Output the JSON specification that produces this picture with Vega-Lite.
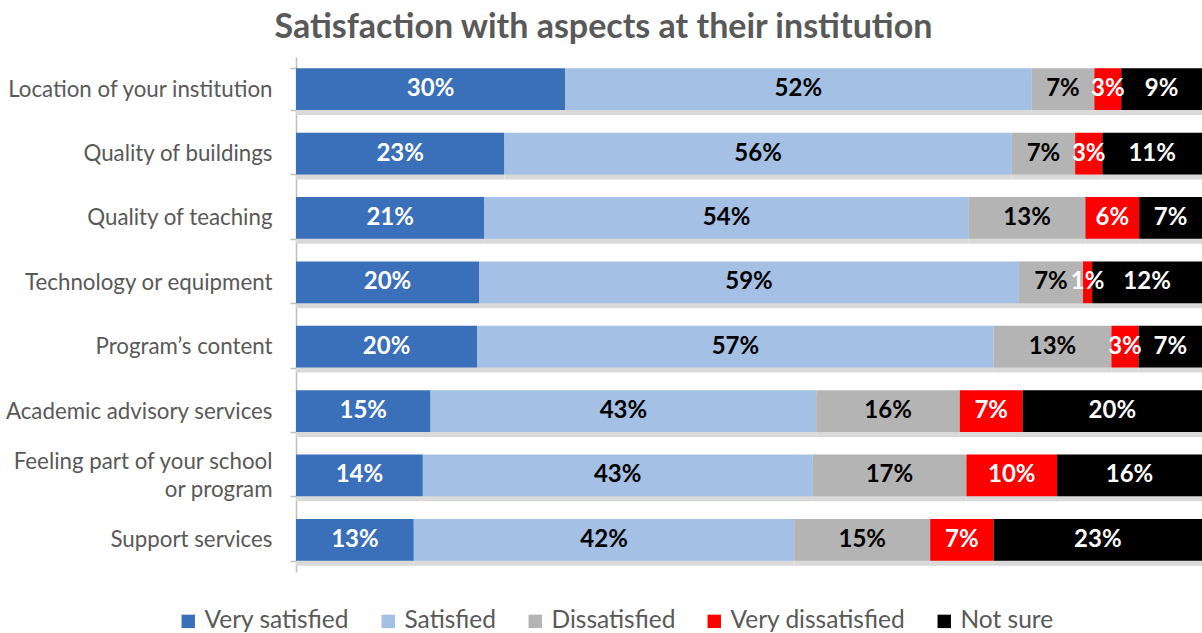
{
  "$schema": "https://vega.github.io/schema/vega-lite/v6.json",
  "width": 906,
  "height": 515,
  "autosize": {"type": "none"},
  "padding": {"left": 296, "top": 57, "right": 0, "bottom": 61},
  "background": "white",
  "title": {
    "text": "Satisfaction with aspects at their institution",
    "anchor": "middle",
    "frame": "bounds",
    "font": "Lato",
    "fontSize": 34,
    "fontWeight": "bold",
    "color": "#595959",
    "offset": 1
  },
  "config": {"view": {"stroke": null}},
  "data": {
    "values": [
      {"aspect": "Location of your institution", "level": "Very satisfied", "value": 30},
      {"aspect": "Location of your institution", "level": "Satisfied", "value": 52},
      {"aspect": "Location of your institution", "level": "Dissatisfied", "value": 7},
      {"aspect": "Location of your institution", "level": "Very dissatisfied", "value": 3},
      {"aspect": "Location of your institution", "level": "Not sure", "value": 9},
      {"aspect": "Quality of buildings", "level": "Very satisfied", "value": 23},
      {"aspect": "Quality of buildings", "level": "Satisfied", "value": 56},
      {"aspect": "Quality of buildings", "level": "Dissatisfied", "value": 7},
      {"aspect": "Quality of buildings", "level": "Very dissatisfied", "value": 3},
      {"aspect": "Quality of buildings", "level": "Not sure", "value": 11},
      {"aspect": "Quality of teaching", "level": "Very satisfied", "value": 21},
      {"aspect": "Quality of teaching", "level": "Satisfied", "value": 54},
      {"aspect": "Quality of teaching", "level": "Dissatisfied", "value": 13},
      {"aspect": "Quality of teaching", "level": "Very dissatisfied", "value": 6},
      {"aspect": "Quality of teaching", "level": "Not sure", "value": 7},
      {"aspect": "Technology or equipment", "level": "Very satisfied", "value": 20},
      {"aspect": "Technology or equipment", "level": "Satisfied", "value": 59},
      {"aspect": "Technology or equipment", "level": "Dissatisfied", "value": 7},
      {"aspect": "Technology or equipment", "level": "Very dissatisfied", "value": 1},
      {"aspect": "Technology or equipment", "level": "Not sure", "value": 12},
      {"aspect": "Program’s content", "level": "Very satisfied", "value": 20},
      {"aspect": "Program’s content", "level": "Satisfied", "value": 57},
      {"aspect": "Program’s content", "level": "Dissatisfied", "value": 13},
      {"aspect": "Program’s content", "level": "Very dissatisfied", "value": 3},
      {"aspect": "Program’s content", "level": "Not sure", "value": 7},
      {"aspect": "Academic advisory services", "level": "Very satisfied", "value": 15},
      {"aspect": "Academic advisory services", "level": "Satisfied", "value": 43},
      {"aspect": "Academic advisory services", "level": "Dissatisfied", "value": 16},
      {"aspect": "Academic advisory services", "level": "Very dissatisfied", "value": 7},
      {"aspect": "Academic advisory services", "level": "Not sure", "value": 20},
      {"aspect": "Feeling part of your school or program", "level": "Very satisfied", "value": 14},
      {"aspect": "Feeling part of your school or program", "level": "Satisfied", "value": 43},
      {"aspect": "Feeling part of your school or program", "level": "Dissatisfied", "value": 17},
      {"aspect": "Feeling part of your school or program", "level": "Very dissatisfied", "value": 10},
      {"aspect": "Feeling part of your school or program", "level": "Not sure", "value": 16},
      {"aspect": "Support services", "level": "Very satisfied", "value": 13},
      {"aspect": "Support services", "level": "Satisfied", "value": 42},
      {"aspect": "Support services", "level": "Dissatisfied", "value": 15},
      {"aspect": "Support services", "level": "Very dissatisfied", "value": 7},
      {"aspect": "Support services", "level": "Not sure", "value": 23}
    ]
  },
  "transform": [
    {"calculate": "indexof(['Very satisfied','Satisfied','Dissatisfied','Very dissatisfied','Not sure'], datum.level)", "as": "rank"},
    {"stack": "value", "groupby": ["aspect"], "sort": [{"field": "rank", "order": "ascending"}], "offset": "normalize", "as": ["v0", "v1"]},
    {"calculate": "(datum.v0 + datum.v1) / 2", "as": "mid"},
    {"calculate": "datum.value + '%'", "as": "label"}
  ],
  "encoding": {
    "y": {
      "field": "aspect",
      "type": "nominal",
      "sort": null,
      "title": null,
      "scale": {"paddingInner": 0.35, "paddingOuter": 0.175},
      "axis": {
        "domainColor": "#BFBFBF",
        "domainWidth": 1.5,
        "tickColor": "#BFBFBF",
        "tickWidth": 1.5,
        "tickSize": 6,
        "tickBand": "extent",
        "labelFont": "Lato",
        "labelFontSize": 22.3,
        "labelColor": "#595959",
        "labelPadding": 18,
        "labelLineHeight": 28,
        "labelLimit": 400,
        "labelOffset": {"condition": {"test": "datum.label == 'Feeling part of your school or program'", "value": -14}, "value": 0},
        "labelExpr": "datum.label == 'Feeling part of your school or program' ? ['Feeling part of your school', 'or program'] : datum.label"
      }
    }
  },
  "layer": [
    {
      "mark": {"type": "bar", "color": "#D9D9D9", "yOffset": 5},
      "encoding": {
        "x": {"field": "v0", "type": "quantitative", "scale": {"domain": [0, 1], "nice": false}, "axis": null},
        "x2": {"field": "v1"}
      }
    },
    {
      "mark": {"type": "bar"},
      "encoding": {
        "x": {"field": "v0", "type": "quantitative", "scale": {"domain": [0, 1], "nice": false}, "axis": null},
        "x2": {"field": "v1"},
        "color": {
          "field": "level",
          "type": "nominal",
          "scale": {
            "domain": ["Very satisfied", "Satisfied", "Dissatisfied", "Very dissatisfied", "Not sure"],
            "range": ["#3A70BA", "#A4C0E4", "#B4B4B4", "#FF0000", "#000000"]
          },
          "legend": {
            "title": null,
            "orient": "none",
            "direction": "horizontal",
            "legendX": -120,
            "legendY": 552,
            "symbolType": "square",
            "symbolSize": 180,
            "symbolStrokeWidth": 0,
            "labelFont": "Lato",
            "labelFontSize": 24.5,
            "labelColor": "#595959",
            "labelLimit": 300,
            "columnPadding": 26,
            "symbolOffset": 0,
            "labelOffset": 4
          }
        }
      }
    },
    {
      "mark": {"type": "text", "font": "Lato", "fontSize": 24, "fontWeight": "bold", "baseline": "middle", "align": "center"},
      "encoding": {
        "x": {"field": "mid", "type": "quantitative", "scale": {"domain": [0, 1], "nice": false}, "axis": null},
        "text": {"field": "label", "type": "nominal"},
        "fill": {
          "field": "level",
          "type": "nominal",
          "scale": {
            "domain": ["Very satisfied", "Satisfied", "Dissatisfied", "Very dissatisfied", "Not sure"],
            "range": ["#FFFFFF", "#000000", "#000000", "#FFFFFF", "#FFFFFF"]
          },
          "legend": null
        }
      }
    }
  ]
}
